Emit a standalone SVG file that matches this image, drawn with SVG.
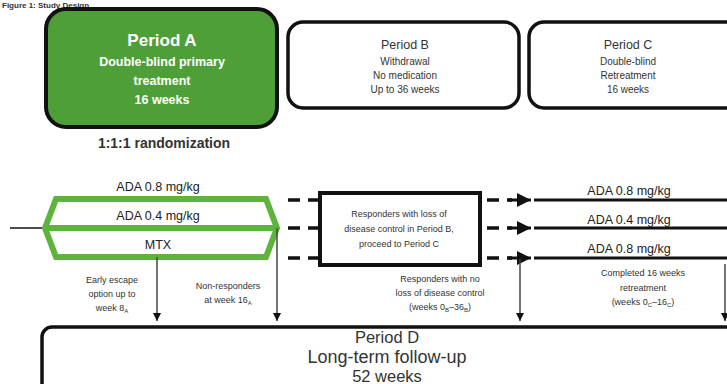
<svg xmlns="http://www.w3.org/2000/svg" width="727" height="384" viewBox="0 0 727 384">
<defs>
<style>
text{font-family:"Liberation Sans",Arial,sans-serif;text-anchor:middle;fill:#333}
.box{fill:#fff;stroke:#111;stroke-width:3.5}
.wt{fill:#fff;font-weight:bold}
.sm{font-size:9px}
.md{font-size:10px}
.arm{font-size:12.5px;fill:#222}
.dash{stroke:#111;stroke-width:3.5;stroke-dasharray:12 8;fill:none}
.solid{stroke:#111;stroke-width:3;fill:none}
.thin{stroke:#444;stroke-width:1.5;fill:none}
.ar{stroke:#111;stroke-width:3;fill:none}
</style>
<marker id="ah" viewBox="0 0 10 10" refX="10" refY="5" markerWidth="8" markerHeight="8" markerUnits="userSpaceOnUse" orient="auto"><path d="M0,0 L10,5 L0,10 z" fill="#111"/></marker>
<marker id="ahr" viewBox="0 0 10 10" refX="10" refY="5" markerWidth="16" markerHeight="14" markerUnits="userSpaceOnUse" orient="auto"><path d="M0,0 L10,5 L0,10 z" fill="#111"/></marker>
</defs>
<text x="2" y="8" font-size="8" font-weight="bold" style="text-anchor:start">Figure 1: Study Design</text>

<g id="periodA">
<rect x="46" y="9" width="231" height="118" rx="20" fill="#4e9f38" stroke="#111" stroke-width="4"/>
<text class="wt" x="162" y="46" font-size="17">Period A</text>
<text class="wt" x="162" y="66" font-size="12.5">Double-blind primary</text>
<text class="wt" x="162" y="85" font-size="12.5">treatment</text>
<text class="wt" x="162" y="104" font-size="12.5">16 weeks</text>
</g>
<text x="164" y="148" font-size="14" font-weight="bold" fill="#333">1:1:1 randomization</text>

<g id="periodB">
<rect class="box" x="288" y="22" width="231" height="86" rx="15"/>
<text x="405" y="49" font-size="12.5">Period B</text>
<text class="md" x="405" y="65">Withdrawal</text>
<text class="md" x="405" y="79">No medication</text>
<text class="md" x="405" y="93">Up to 36 weeks</text>
</g>

<g id="periodC">
<rect class="box" x="529" y="22" width="215" height="86" rx="15"/>
<text x="628" y="49" font-size="12.5">Period C</text>
<text class="md" x="628" y="65">Double-blind</text>
<text class="md" x="628" y="79">Retreatment</text>
<text class="md" x="628" y="93">16 weeks</text>
</g>

<g id="randomizedArms">
<line x1="10" y1="228" x2="45" y2="228" stroke="#111" stroke-width="1.5"/>
<path d="M45,228 L56,199 L266,199 L277,228 L266,257 L56,257 Z M45,228 L277,228" fill="none" stroke="#5db43c" stroke-width="6" stroke-linejoin="miter"/>
<text class="arm" x="158" y="191">ADA 0.8 mg/kg</text>
<text class="arm" x="158" y="220">ADA 0.4 mg/kg</text>
<text class="arm" x="158" y="249">MTX</text>
</g>

<g id="lossOfControl">
<rect x="320" y="193" width="160" height="72" fill="#fff" stroke="#111" stroke-width="4"/>
<text class="sm" x="399" y="217">Responders with loss of</text>
<text class="sm" x="399" y="232">disease control in Period B,</text>
<text class="sm" x="399" y="247">proceed to Period C</text>
</g>

<g id="retreatmentArms">
<text class="arm" x="629" y="195">ADA 0.8 mg/kg</text>
<text class="arm" x="629" y="224">ADA 0.4 mg/kg</text>
<text class="arm" x="629" y="253">ADA 0.8 mg/kg</text>
</g>

<g id="periodD">
<rect class="box" x="42" y="327" width="710" height="70" rx="10"/>
<text x="387" y="343" font-size="16.5">Period D</text>
<text x="387" y="363" font-size="18">Long-term follow-up</text>
<text x="387" y="382" font-size="16.5">52 weeks</text>
</g>

<g id="connectors">
<path class="dash" d="M288,200 H318 M288,228 H318 M288,258 H318"/>
<path class="dash" d="M487,200 H512 M487,228 H512 M487,258 H512" stroke-dasharray="12 7"/>
<line class="ar" x1="508" y1="200" x2="531" y2="200" marker-end="url(#ahr)"/>
<line class="ar" x1="508" y1="228" x2="531" y2="228" marker-end="url(#ahr)"/>
<line class="ar" x1="508" y1="258" x2="531" y2="258" marker-end="url(#ahr)"/>
<path class="solid" d="M534,200 H727 M534,228 H727 M534,258 H727"/>
<line class="thin" x1="157" y1="257" x2="157" y2="321" marker-end="url(#ah)"/>
<line class="thin" x1="277" y1="228" x2="277" y2="321" marker-end="url(#ah)"/>
<line class="thin" x1="520" y1="259" x2="520" y2="321" marker-end="url(#ah)"/>
<line class="thin" x1="725" y1="264" x2="725" y2="321" marker-end="url(#ah)"/>
</g>

<g id="labels">
<text class="sm" x="112" y="283">Early escape</text>
<text class="sm" x="112" y="297">option up to</text>
<text class="sm" x="112" y="311">week 8<tspan font-size="6" dy="2">A</tspan></text>
<text class="sm" x="228" y="289">Non-responders</text>
<text class="sm" x="228" y="303">at week 16<tspan font-size="6" dy="2">A</tspan></text>
<text class="sm" x="440" y="282">Responders with no</text>
<text class="sm" x="440" y="296">loss of disease control</text>
<text class="sm" x="440" y="310">(weeks 0<tspan font-size="6" dy="2">B</tspan><tspan dy="-2">–36</tspan><tspan font-size="6" dy="2">B</tspan><tspan dy="-2">)</tspan></text>
<text class="sm" x="643" y="276">Completed 16 weeks</text>
<text class="sm" x="643" y="291">retreatment</text>
<text class="sm" x="643" y="305">(weeks 0<tspan font-size="6" dy="2">C</tspan><tspan dy="-2">–16</tspan><tspan font-size="6" dy="2">C</tspan><tspan dy="-2">)</tspan></text>
</g>
</svg>
